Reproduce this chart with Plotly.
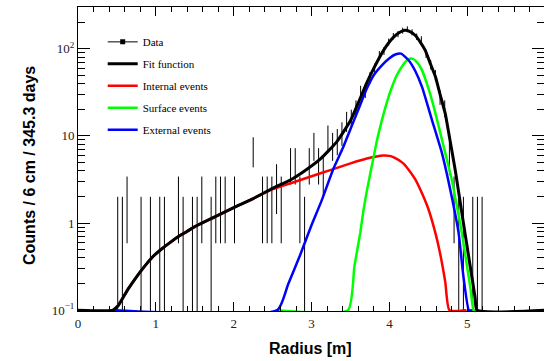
import numpy as np
import plotly.graph_objects as go

# ---------------- data ----------------
bin_width = 0.06  # m (6 cm bins, 0..6 m)
counts = [
    0, 0, 0, 0, 0, 0, 0, 0, 1, 1,      # 0-9
    2, 0, 0, 1, 0, 1, 0, 1, 1, 0,      # 10-19
    0, 2, 1, 0, 1, 1, 2, 0, 1, 2,      # 20-29
    2, 2, 0, 2, 0, 0, 0, 7, 0, 2,      # 30-39
    2, 2, 3, 2, 0, 5, 5, 2, 1, 5,      # 40-49
    8, 5, 4, 10, 8, 9, 11, 15, 16, 21,  # 50-59
    32, 33, 47, 60, 85, 95, 120, 140, 148, 162,  # 60-69
    168, 155, 138, 128, 88, 66, 50, 28, 21, 6,  # 70-79
    2, 1, 1, 0, 1, 1, 1, 0, 0, 0,      # 80-89
    0, 0, 0, 0, 0, 0, 0, 0, 0, 0,      # 90-99
]

fit_r = [0.0, 0.45, 0.514, 0.58, 0.643, 0.75, 0.857, 0.96, 1.07, 1.18, 1.285, 1.4,
         1.5, 1.75, 2.0, 2.25, 2.5, 2.75, 2.9, 3.11, 3.325, 3.5, 3.6, 3.71, 3.8,
         3.924, 4.053, 4.15, 4.2, 4.25, 4.33, 4.4, 4.46, 4.53, 4.59, 4.65, 4.717,
         4.76, 4.8, 4.85, 4.9, 4.95, 5.0, 5.05, 5.1, 5.125, 6.0]
fit_v = [0.1, 0.1, 0.112, 0.14, 0.174, 0.24, 0.32, 0.41, 0.5, 0.595, 0.695, 0.8,
         0.91, 1.17, 1.5, 1.91, 2.5, 3.2, 3.9, 5.4, 8.6, 15, 24, 41, 60,
         96, 136, 158, 163, 160, 143, 118, 96, 66, 48, 30, 18,
         11, 6.9, 3.8, 1.95, 1.0, 0.52, 0.27, 0.14, 0.1, 0.1]

int_r = [0.45, 0.514, 0.58, 0.643, 0.75, 0.857, 0.96, 1.07, 1.18, 1.285, 1.4, 1.5,
         1.75, 2.0, 2.25, 2.5, 2.75, 3.0, 3.25, 3.5, 3.71, 3.92, 4.0, 4.07, 4.17,
         4.246, 4.33, 4.418, 4.5, 4.59, 4.65, 4.717, 4.77, 4.99]
int_v = [0.1, 0.112, 0.14, 0.174, 0.24, 0.32, 0.41, 0.5, 0.595, 0.695, 0.8, 0.91,
         1.17, 1.5, 1.91, 2.45, 2.9, 3.44, 4.08, 4.84, 5.5, 5.96, 5.9, 5.6, 4.9,
         4.1, 3.2, 2.2, 1.45, 0.77, 0.45, 0.21, 0.1, 0.1]

ext_r = [0.45, 2.56, 2.7, 2.853, 3.0, 3.13, 3.28, 3.4, 3.496, 3.6, 3.71, 3.8,
         3.924, 4.0, 4.075, 4.15, 4.246, 4.33, 4.418, 4.546, 4.675, 4.8, 4.888,
         4.95, 5.02, 5.06]
ext_v = [0.1, 0.1, 0.2, 0.43, 0.95, 1.82, 4.2, 7.2, 11.8, 20, 35, 50,
         67.6, 78, 86, 88, 74, 56, 36.5, 15.2, 6.3, 2.0, 0.77,
         0.245, 0.1, 0.1]

surf_r = [2.56, 3.468, 3.55, 3.625, 3.667, 3.71, 3.775, 3.84, 3.9, 3.968, 4.03, 4.096,
          4.17, 4.246, 4.3, 4.35, 4.418, 4.48, 4.546, 4.61, 4.675, 4.74, 4.8, 4.87,
          4.93, 4.996, 5.04, 5.08, 5.11]
surf_v = [0.1, 0.1, 0.32, 0.77, 1.41, 2.34, 4.6, 8.9, 14.8, 24.5, 36, 50,
          64.5, 76, 76.7, 70.8, 57, 40, 25.7, 15.5, 9.0, 5.25, 3.16, 1.5,
          0.77, 0.32, 0.18, 0.1, 0.1]

x_ticks = [0, 1, 2, 3, 4, 5]
y_ticks = [0.1, 1, 10, 100]
y_ticktext = ["10<sup>\u22121</sup>", "1", "10", "10<sup>2</sup>"]

# ---------------- build ----------------
edges = np.arange(len(counts) + 1) * bin_width
centers = 0.5 * (edges[:-1] + edges[1:])
n = np.array(counts, dtype=float)
m = n > 0
err = np.sqrt(n[m])
err_lo = np.minimum(err, n[m] - 0.05)

fig = go.Figure()

fig.add_trace(go.Scatter(
    x=centers[m], y=n[m], mode="markers",
    marker=dict(size=2, color="rgba(0,0,0,0)"),
    error_y=dict(type="data", array=err, arrayminus=err_lo, width=0,
                 thickness=1, color="black"),
    showlegend=False, hoverinfo="skip"))

# legend entry for data
fig.add_trace(go.Scatter(
    x=[None], y=[None], mode="lines+markers", name="Data",
    line=dict(color="black", width=1),
    marker=dict(symbol="square", size=5, color="black"),
    legendgroup="g1", legendrank=1))

curve_specs = [
    (int_r, int_v, "#ff0000", "Internal events", 3),
    (surf_r, surf_v, "#00ff00", "Surface events", 4),
    (ext_r, ext_v, "#0000ff", "External events", 5),
    (fit_r, fit_v, "#000000", "Fit function", 2),
]
for xr, yv, col, nm, rk in curve_specs:
    fig.add_trace(go.Scatter(
        x=xr, y=yv, mode="lines", name=nm,
        line=dict(color=col, width=3 if col == "#000000" else 2.5,
                  shape="spline", smoothing=0.5),
        legendgroup="g%d" % rk, legendrank=rk, hoverinfo="skip"))

minor_y = [d * k for d in y_ticks for k in range(2, 10) if d * k < 310]

serif = "Liberation Serif"
sans = "Liberation Sans"

fig.update_layout(
    width=544, height=361,
    margin=dict(l=78, r=0, t=7, b=50),
    paper_bgcolor="white", plot_bgcolor="white",
    showlegend=True,
    legend=dict(x=0.053, y=0.933, xanchor="left", yanchor="top",
                bgcolor="rgba(0,0,0,0)", borderwidth=0,
                font=dict(family=serif, size=11, color="black"),
                traceorder="grouped", tracegroupgap=3),
    xaxis=dict(
        range=[0, 5.985], tickmode="array", tickvals=x_ticks,
        ticks="inside", ticklen=9, tickwidth=1, tickcolor="black",
        showline=True, linecolor="black", linewidth=1, mirror="allticks",
        showgrid=False, zeroline=False,
        tickfont=dict(family=serif, size=13, color="#222"),
        minor=dict(tickmode="linear", tick0=0, dtick=0.2, ticks="inside",
                   ticklen=5, tickcolor="black", showgrid=False),
    ),
    yaxis=dict(
        type="log", range=[-1.01, 2.48], tickmode="array",
        tickvals=y_ticks, ticktext=y_ticktext,
        ticks="inside", ticklen=12, tickwidth=1, tickcolor="black",
        showline=True, linecolor="black", linewidth=1, mirror="allticks",
        showgrid=False, zeroline=False,
        tickfont=dict(family=serif, size=13, color="#222"),
        minor=dict(tickmode="array", tickvals=minor_y, ticks="inside",
                   ticklen=7, tickcolor="black", showgrid=False),
    ),
    annotations=[
        dict(text="Counts / 6 cm / 345.3 days", xref="paper", yref="paper",
             x=-0.103, y=0.477, xanchor="center", yanchor="middle",
             textangle=-90, showarrow=False,
             font=dict(family=sans, size=16, color="black", weight="bold")),
        dict(text="Radius [m]", xref="paper", yref="paper",
             x=0.498, y=-0.122, xanchor="center", yanchor="middle",
             showarrow=False,
             font=dict(family=sans, size=16, color="black", weight="bold")),
    ],
)

fig.write_html("out.html",
               config={"displayModeBar": False},
               post_script="document.body.style.margin='0px';"
                           "document.body.style.overflow='hidden';")
